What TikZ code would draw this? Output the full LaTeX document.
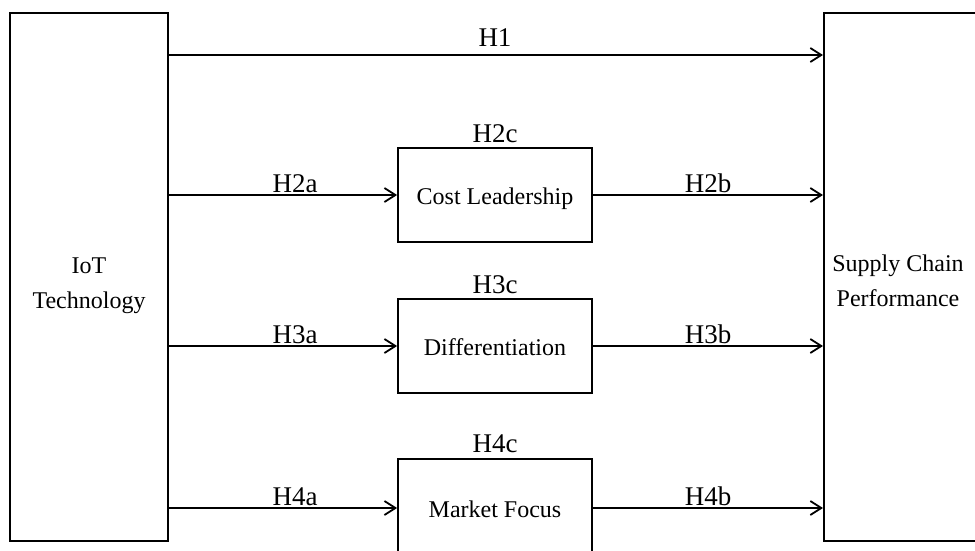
\documentclass[tikz,border=0pt]{standalone}
\usepackage{fontspec}
\setmainfont{Liberation Serif}
\usetikzlibrary{arrows.meta}
\begin{document}
\begin{tikzpicture}[x=1pt,y=-1pt,
  box/.style={draw, line width=1.8pt, rectangle, inner sep=0pt, font=\fontsize{24}{35}\selectfont, align=center, text height=22pt, text depth=4pt},
  boxtext/.style={inner sep=0pt, font=\fontsize{24}{35}\selectfont, align=center},
  arr/.style={line width=1.8pt, -{Straight Barb[length=11pt,width=14pt]}},
  hlab/.style={font=\fontsize{27}{30}\selectfont, anchor=base, inner sep=0pt}]
\useasboundingbox (0,0) rectangle (975,550);
\clip (0,0) rectangle (975,550);
% main boxes
\node[box, minimum width=158, minimum height=528] (iot) at (89,277) {};
\node[boxtext] (iott) at (89,286) {IoT\\Technology};
\node[box, minimum width=220, minimum height=528, anchor=west] (scp) at (823,277) {};
\node[boxtext] (scpt) at (898,281) {Supply Chain\\Performance};
% mediators
\node[box, minimum width=194, minimum height=94] (cl) at (495,195) {Cost Leadership};
\node[box, minimum width=194, minimum height=94] (df) at (495,346) {Differentiation};
\node[box, minimum width=194, minimum height=98] (mf) at (495,508) {Market Focus};
% connectors
\coordinate (y1) at (0,55);
\draw[arr] (iot.east |- y1) -- (scp.west |- y1);
\draw[arr] (iot.east |- cl.west) -- (cl.west);
\draw[arr] (cl.east) -- (scp.west |- cl.east);
\draw[arr] (iot.east |- df.west) -- (df.west);
\draw[arr] (df.east) -- (scp.west |- df.east);
\draw[arr] (iot.east |- mf.west) -- (mf.west);
\draw[arr] (mf.east) -- (scp.west |- mf.east);
% labels
\node[hlab] (h1) at (495,46) {H1};
\node[hlab] (h2a) at (295,192) {H2a};
\node[hlab] (h2b) at (708,192) {H2b};
\node[hlab] (h2c) at (495,142) {H2c};
\node[hlab] (h3a) at (295,343) {H3a};
\node[hlab] (h3b) at (708,343) {H3b};
\node[hlab] (h3c) at (495,293) {H3c};
\node[hlab] (h4a) at (295,505) {H4a};
\node[hlab] (h4b) at (708,505) {H4b};
\node[hlab] (h4c) at (495,452) {H4c};
\end{tikzpicture}
\end{document}
